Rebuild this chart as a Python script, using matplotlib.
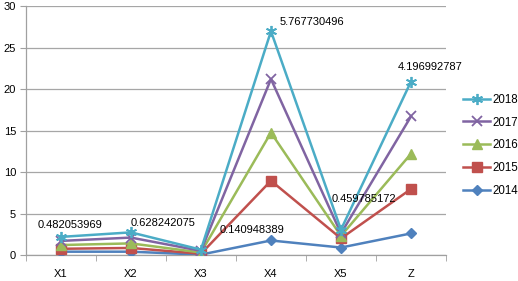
import numpy as np
import matplotlib
matplotlib.use("Agg")
import matplotlib.pyplot as plt

# --------- Données (valeurs par année, empilées) ---------
categories = ["X1", "X2", "X3", "X4", "X5", "Z"]
years = ["2014", "2015", "2016", "2017", "2018"]

v2014 = [0.40, 0.40, 0.05, 1.75, 0.90, 2.60]
v2015 = [0.35, 0.45, 0.10, 7.20, 1.10, 5.35]
v2016 = [0.45, 0.55, 0.15, 5.80, 0.30, 4.25]
v2017 = [0.50, 0.70, 0.20, 6.45, 0.30, 4.50]
v2018 = [0.482053969, 0.628242075, 0.140948389, 5.767730496, 0.459785172, 4.196992787]

series = [v2014, v2015, v2016, v2017, v2018]

# --------- Style ---------
colors = ["#4F81BD", "#C0504D", "#9BBB59", "#8064A2", "#4BACC6"]
markers = ["D", "s", "^", "x", (6, 2, 0)]
msizes = [5, 6.5, 7, 7, 8]
# position des étiquettes (décalage en catégories / hauteur y)
label_dx = [-0.33, -0.01, 0.26, 0.13, -0.14, -0.19]
label_y = [3.6, 3.9, 3.0, 28.1, 6.75, 22.65]

plt.rcParams['font.family'] = ['Liberation Sans', 'DejaVu Sans']

fig = plt.figure(figsize=(5.18, 2.81), dpi=100)
ax = fig.add_axes([0.050, 0.0925, 0.811, 0.886])

x = np.arange(len(categories))
cum = np.cumsum(np.array(series), axis=0)

handles = []
for i, year in enumerate(years):
    mew = 1.3 if i >= 3 else 1
    h, = ax.plot(x, cum[i], color=colors[i], lw=1.8, marker=markers[i],
                 markersize=msizes[i], markeredgewidth=mew, label=year,
                 zorder=3 + i)
    handles.append(h)

# étiquettes de la série 2018
for j in range(len(categories)):
    ax.text(x[j] + label_dx[j], label_y[j], "%.9f" % v2018[j],
            fontsize=8, ha="left", va="center", zorder=10)

ax.set_xlim(-0.5, len(categories) - 0.5)
ax.set_ylim(0, 30)
ax.set_yticks(np.arange(0, 31, 5))
ax.set_xticks(x)
ax.set_xticklabels(categories)
ax.set_xticks(np.arange(-0.5, len(categories), 1), minor=True)
ax.tick_params(axis="x", which="major", length=0, pad=10, labelsize=8)
ax.tick_params(axis="x", which="minor", length=4, color="#A0A0A0")
ax.tick_params(axis="y", length=4, color="#A0A0A0", labelsize=8, pad=3)

ax.grid(axis="y", color="#A6A6A6", lw=0.9)
ax.set_axisbelow(True)
for s in ["top", "right"]:
    ax.spines[s].set_visible(False)
for s in ["left", "bottom"]:
    ax.spines[s].set_color("#A0A0A0")
    ax.spines[s].set_linewidth(0.9)

leg = ax.legend(handles[::-1], years[::-1], loc="center left",
                bbox_to_anchor=(1.015, 0.44), frameon=False, fontsize=8.3,
                handlelength=2.4, handletextpad=0.2, labelspacing=0.95,
                borderaxespad=0.5)

plt.savefig("out.png", dpi=100)
plt.close()
